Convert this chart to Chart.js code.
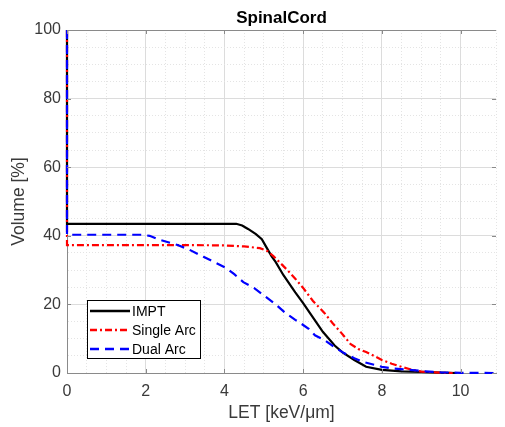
<!DOCTYPE html>
<html>
<head>
<meta charset="utf-8">
<script src="https://cdn.jsdelivr.net/npm/chart.js@4.4.0/dist/chart.umd.min.js"></script>
<style>
  html, body { margin: 0; padding: 0; background: #fff; }
  canvas { display: block; }
</style>
</head>
<body>
<canvas id="letChart" width="505" height="427"></canvas>
<script>
// LET-volume histogram, SpinalCord
const imptLet = [0, 0, 0.5, 1, 2, 3, 4, 4.3, 4.45, 4.6, 4.8, 4.95, 5.05, 5.2, 5.3, 5.5, 5.8, 6.0, 6.2, 6.5, 6.8, 7.0, 7.3, 7.6, 8.0, 8.5, 9.0, 9.5, 9.9];
const imptVol = [100, 43.5, 43.5, 43.5, 43.5, 43.5, 43.5, 43.5, 43, 42, 40.5, 39, 37, 34, 32.4, 28.5, 23.5, 20.4, 17, 12, 8, 6, 3.8, 1.8, 0.9, 0.5, 0.3, 0.1, 0];

const singleLet = [0, 0, 1, 2, 3, 4, 4.5, 4.9, 5.1, 5.25, 5.4, 5.6, 5.8, 6.0, 6.25, 6.54, 6.75, 6.97, 7.2, 7.4, 7.6, 7.8, 8.0, 8.25, 8.5, 8.75, 9.0, 9.5, 9.8];
const singleVol = [100, 37.3, 37.3, 37.3, 37.3, 37.2, 36.9, 36.4, 35.5, 34, 32.3, 30, 27.5, 24.8, 21, 17.5, 14.5, 11.7, 8.5, 7, 6.1, 5, 3.8, 2.7, 1.8, 1.0, 0.4, 0.1, 0];

const dualLet = [0, 0, 1, 1.9, 2.1, 2.31, 2.55, 2.81, 3.1, 3.48, 3.75, 4.05, 4.25, 4.48, 4.75, 5.05, 5.3, 5.55, 5.8, 6.0, 6.15, 6.3, 6.54, 6.8, 7.04, 7.3, 7.54, 8.0, 8.3, 8.7, 9.1, 9.5, 10.0, 10.9];
const dualVol = [100, 40.3, 40.3, 40.3, 40, 39, 38.2, 37.3, 36, 33.8, 32.3, 30.6, 28.8, 26.5, 24.8, 22.2, 20, 17.5, 15.5, 14, 12.8, 11, 9.6, 7.5, 5.8, 4.3, 3.2, 1.8, 1.3, 0.9, 0.5, 0.2, 0.05, 0];

const seriesNames = ['IMPT', 'Single Arc', 'Dual Arc'];
const xTickLabels = [0, 2, 4, 6, 8, 10];
const yTickLabels = [0, 20, 40, 60, 80, 100];

const FONT = "'Liberation Sans', Arial, Helvetica, sans-serif";
const AXIS_GRAY = '#8a8a8a';
const TEXT_GRAY = '#3a3a3a';

const toPoints = (xs, ys) => xs.map((x, i) => ({ x: x, y: ys[i] }));
const isMajor = (v, list) => list.some(t => Math.abs(t - v) < 1e-6);

// MATLAB style box: top edge, inward ticks, legend inside the axes
const matlabBox = {
  id: 'matlabBox',
  afterDraw(chart) {
    const { ctx, chartArea } = chart;
    const xs = chart.scales.x, ys = chart.scales.y;
    ctx.save();
    ctx.strokeStyle = AXIS_GRAY;
    ctx.lineWidth = 1;
    ctx.beginPath();
    ctx.moveTo(chartArea.left, chartArea.top + 0.5);
    ctx.lineTo(chartArea.right, chartArea.top + 0.5);
    xTickLabels.forEach(v => {
      const px = Math.round(xs.getPixelForValue(v)) + 0.5;
      ctx.moveTo(px, chartArea.bottom);
      ctx.lineTo(px, chartArea.bottom - 4);
      ctx.moveTo(px, chartArea.top);
      ctx.lineTo(px, chartArea.top + 4);
    });
    yTickLabels.forEach(v => {
      const py = Math.round(ys.getPixelForValue(v)) + 0.5;
      ctx.moveTo(chartArea.left, py);
      ctx.lineTo(chartArea.left + 4, py);
      ctx.moveTo(chartArea.right, py);
      ctx.lineTo(chartArea.right - 4, py);
    });
    ctx.stroke();

    // legend
    const bx = 87, by = 300, bw = 113, bh = 58;
    ctx.fillStyle = '#ffffff';
    ctx.fillRect(bx, by, bw, bh);
    ctx.strokeStyle = '#000000';
    ctx.lineWidth = 1;
    ctx.strokeRect(bx + 0.5, by + 0.5, bw, bh);
    ctx.font = '14px ' + FONT;
    ctx.textBaseline = 'middle';
    ctx.textAlign = 'left';
    chart.data.datasets.forEach((ds, i) => {
      const ry = by + 11 + i * 19;
      ctx.beginPath();
      ctx.strokeStyle = ds.borderColor;
      ctx.lineWidth = 2.5;
      ctx.setLineDash(ds.borderDash || []);
      ctx.moveTo(bx + 3, ry);
      ctx.lineTo(bx + 43, ry);
      ctx.stroke();
      ctx.setLineDash([]);
      ctx.fillStyle = '#000000';
      ctx.fillText(ds.label, bx + 45, ry + 1);
    });
    ctx.restore();
  }
};

new Chart(document.getElementById('letChart').getContext('2d'), {
  type: 'line',
  data: {
    datasets: [
      { label: seriesNames[0], data: toPoints(imptLet, imptVol), borderColor: '#000000', borderWidth: 2.2, borderDash: [], clip: 2, order: 2 },
      { label: seriesNames[1], data: toPoints(singleLet, singleVol), borderColor: '#ff0000', borderWidth: 2.2, borderDash: [7, 3, 2, 3], clip: 2, order: 1 },
      { label: seriesNames[2], data: toPoints(dualLet, dualVol), borderColor: '#0000ff', borderWidth: 2.2, borderDash: [9, 6], clip: 2, order: 0 }
    ]
  },
  options: {
    responsive: false,
    animation: false,
    devicePixelRatio: 1,
    layout: { padding: { left: 0, right: 0, top: 0, bottom: 0 } },
    elements: { point: { radius: 0 }, line: { tension: 0, fill: false } },
    plugins: {
      legend: { display: false },
      tooltip: { enabled: false },
      title: {
        display: true,
        text: 'SpinalCord',
        fullSize: false,
        color: '#000000',
        font: { family: FONT, size: 17, weight: 'bold' },
        padding: { top: 7.8, bottom: 1.8 }
      }
    },
    scales: {
      x: {
        type: 'linear',
        min: 0,
        max: 10.9,
        afterFit: scale => { scale.height = 54; },
        ticks: {
          stepSize: 0.5,
          autoSkip: false,
          maxRotation: 0,
          padding: 9,
          color: TEXT_GRAY,
          font: { family: FONT, size: 16 },
          callback: v => isMajor(v, xTickLabels) ? String(Math.round(v)) : ''
        },
        grid: {
          drawTicks: false,
          color: ctx => ctx.tick && isMajor(ctx.tick.value, xTickLabels) ? '#dcdcdc' : '#e4e4e4'
        },
        border: {
          color: AXIS_GRAY,
          dash: ctx => ctx.tick && !isMajor(ctx.tick.value, xTickLabels) ? [1, 2] : []
        },
        title: {
          display: true,
          text: 'LET [keV/μm]',
          color: TEXT_GRAY,
          font: { family: FONT, size: 17.5 },
          padding: { top: 0, bottom: 3.5 }
        }
      },
      y: {
        min: 0,
        max: 100,
        afterFit: scale => { scale.width = 67; },
        ticks: {
          stepSize: 5,
          autoSkip: false,
          padding: 6,
          color: TEXT_GRAY,
          font: { family: FONT, size: 16 },
          callback: v => isMajor(v, yTickLabels) ? String(Math.round(v)) : ''
        },
        grid: {
          drawTicks: false,
          color: ctx => ctx.tick && isMajor(ctx.tick.value, yTickLabels) ? '#dcdcdc' : '#e4e4e4'
        },
        border: {
          color: AXIS_GRAY,
          dash: ctx => ctx.tick && !isMajor(ctx.tick.value, yTickLabels) ? [1, 2] : []
        },
        title: {
          display: true,
          text: 'Volume [%]',
          color: TEXT_GRAY,
          font: { family: FONT, size: 17.5 },
          padding: { top: 9, bottom: 0 }
        }
      }
    }
  },
  plugins: [matlabBox]
});
</script>
</body>
</html>
